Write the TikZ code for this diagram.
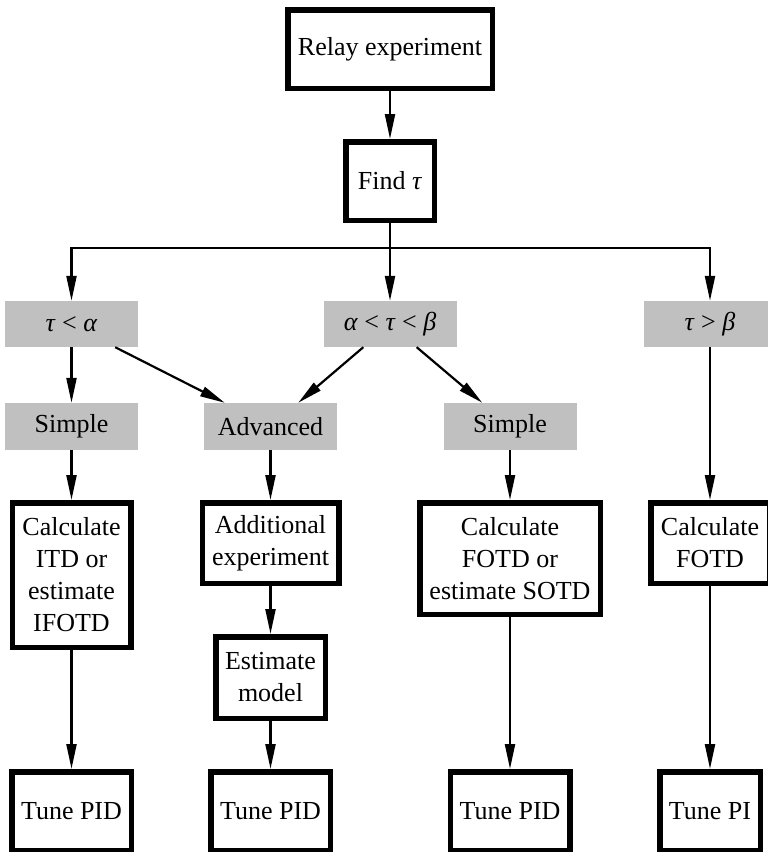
\documentclass[tikz,border=0pt]{standalone}
\usepackage{fontspec}
\setmainfont{Liberation Serif}
\usetikzlibrary{arrows.meta}
\definecolor{condgray}{RGB}{192,192,192}

\begin{document}
\begin{tikzpicture}[
		x=1pt, y=-1pt,
		font=\fontsize{26}{32}\selectfont,
		box/.style={draw, line width=5.5pt, align=center, inner sep=2pt},
		cond/.style={fill=condgray, minimum width=133pt, minimum height=46pt, inner sep=0pt},
		arr/.style={draw, line width=2.2pt, -{Triangle[length=25pt,width=10pt]}}
	]
	\useasboundingbox (0,0) rectangle (768,852);

	\node[box, minimum width=204.5pt, minimum height=78.5pt] (relay) at (390,49) {Relay experiment};
	\node[box, minimum width=88.5pt, minimum height=78.5pt] (find) at (390,181) {Find \textit{τ}};
	\coordinate (split) at (390,248);

	\node[cond] (lt) at (71.5,324) {\textit{τ} < \textit{α}};
	\node[cond] (mid) at (390,324) {\textit{α} < \textit{τ} < \textit{β}};
	\node[cond] (gt) at (710,324) {\textit{τ} > \textit{β}};

	\node[cond, minimum height=47pt] (simpleA) at (71.5,426.5) {Simple};
	\node[cond, minimum height=47pt] (adv) at (270.5,426.5) {Advanced};
	\node[cond, minimum height=47pt] (simpleB) at (510,426.5) {Simple};

	\node[box, minimum width=118.5pt, minimum height=144.5pt] (calcA) at (71.5,575) {Calculate\\ITD or\\estimate\\IFOTD};
	\node[box, minimum width=136.5pt, minimum height=80.5pt] (addexp) at (270.5,543) {Additional\\experiment};
	\node[box, minimum width=109.5pt, minimum height=81.5pt] (estim) at (270.5,677.5) {Estimate\\model};
	\node[box, minimum width=180.5pt, minimum height=111.5pt] (calcB) at (510,558.5) {Calculate\\FOTD or\\estimate SOTD};
	\node[box, minimum width=118.5pt, minimum height=80.5pt] (calcC) at (710,543) {Calculate\\FOTD};

	\node[box, minimum width=119.5pt, minimum height=78.5pt] (tuneA) at (71.5,811) {Tune PID};
	\node[box, minimum width=119.5pt, minimum height=78.5pt] (tuneB) at (270.5,811) {Tune PID};
	\node[box, minimum width=119.5pt, minimum height=78.5pt] (tuneC) at (510,811) {Tune PID};
	\node[box, minimum width=100.5pt, minimum height=78.5pt] (tuneD) at (710,811) {Tune PI};

	\draw[arr] (relay) -- (find);
	\draw[arr] (find) -- (mid);
	\draw[arr] (split) -| (lt.north);
	\draw[arr] (split) -| (gt.north);

	\draw[arr] (lt) -- (simpleA);
	\draw[arr] ([xshift=-23pt]lt.south east) -- ([xshift=21pt]adv.north west);
	\draw[arr] ([xshift=40pt]mid.south west) -- ([xshift=-39pt]adv.north east);
	\draw[arr] ([xshift=-40pt]mid.south east) -- ([xshift=39pt]simpleB.north west);
	\draw[arr] (gt) -- (calcC);

	\draw[arr] (simpleA) -- (calcA);
	\draw[arr] (adv) -- (addexp);
	\draw[arr] (simpleB) -- (calcB);

	\draw[arr] (calcA) -- (tuneA);
	\draw[arr] (addexp) -- (estim);
	\draw[arr] (estim) -- (tuneB);
	\draw[arr] (calcB) -- (tuneC);
	\draw[arr] (calcC) -- (tuneD);
\end{tikzpicture}
\end{document}
